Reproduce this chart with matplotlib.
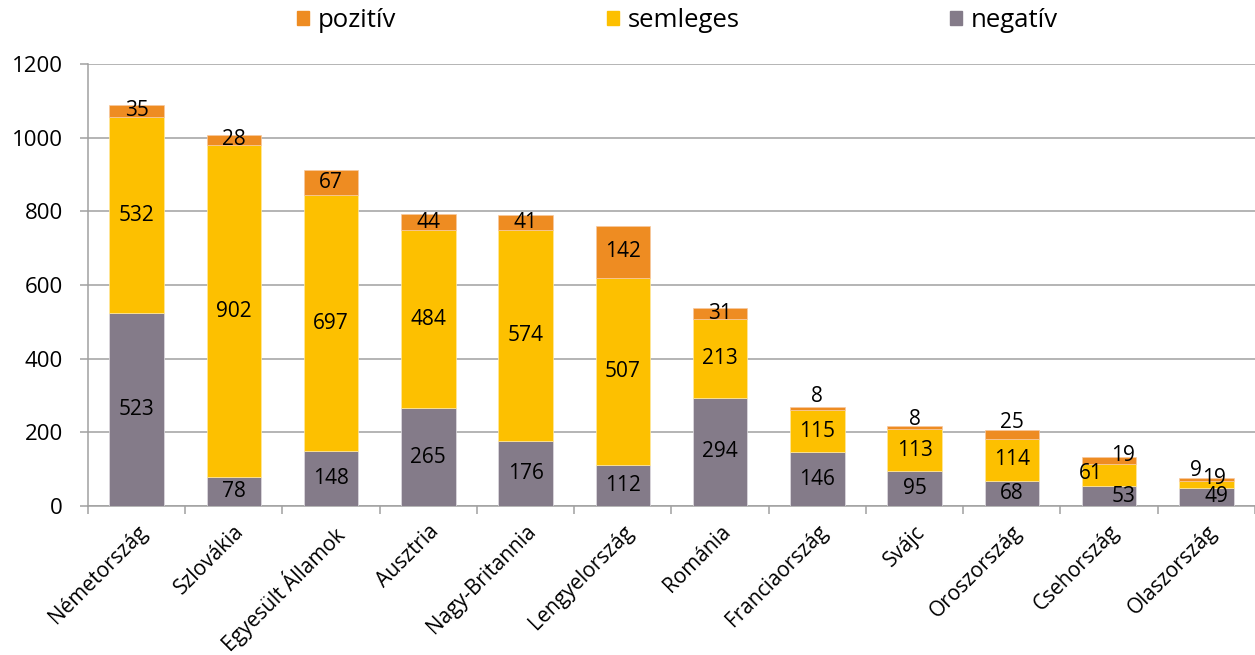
import matplotlib.pyplot as plt
from matplotlib.patches import Patch
import numpy as np

plt.rcParams['font.family'] = ['Open Sans', 'DejaVu Sans']

# data
countries = ["Németország", "Szlovákia", "Egyesült Államok", "Ausztria", "Nagy-Britannia",
             "Lengyelország", "Románia", "Franciaország", "Svájc", "Oroszország",
             "Csehország", "Olaszország"]
negativ = [523, 78, 148, 265, 176, 112, 294, 146, 95, 68, 53, 49]
semleges = [532, 902, 697, 484, 574, 507, 213, 115, 113, 114, 61, 19]
pozitiv = [35, 28, 67, 44, 41, 142, 31, 8, 8, 25, 19, 9]

c_neg = "#847b89"
c_sem = "#fdc000"
c_poz = "#ee8c22"

# label nudges in pixels (dx, dy) for small segments, like in the original
nudge = {
    ("poz", 7): (0, 12),
    ("poz", 8): (0, 8),
    ("poz", 9): (0, 12),
    ("neg", 10): (14, 0),
    ("sem", 10): (-18, 2),
    ("poz", 10): (14, 5),
    ("neg", 11): (10, 0),
    ("sem", 11): (8, 6),
    ("poz", 11): (-10, 9),
}

fig = plt.figure(figsize=(12.55, 6.55), dpi=100)
ax = fig.add_axes([0.0701, 0.2275, 0.9299, 0.6748])

x = np.arange(len(countries))
w = 0.56
neg = np.array(negativ)
sem = np.array(semleges)
poz = np.array(pozitiv)

ax.bar(x, neg, w, color=c_neg, edgecolor="#e0dde2", linewidth=0.5, zorder=3)
ax.bar(x, sem, w, bottom=neg, color=c_sem, edgecolor="#ffe9a0", linewidth=0.5, zorder=3)
ax.bar(x, poz, w, bottom=neg + sem, color=c_poz, edgecolor="#f7c9a0", linewidth=0.5, zorder=3)

series = [("neg", neg, np.zeros(len(neg))), ("sem", sem, neg), ("poz", poz, neg + sem)]
for key, vals, bottoms in series:
    for i in range(len(vals)):
        dx, dy = nudge.get((key, i), (0, 0))
        ax.annotate(str(vals[i]), (x[i], bottoms[i] + vals[i] / 2),
                    xytext=(dx, dy), textcoords="offset pixels",
                    ha="center", va="center", fontsize=15, color="black", zorder=5)

ax.set_xlim(-0.5, len(countries) - 0.5)
ax.set_ylim(0, 1200)
ax.set_yticks(np.arange(0, 1201, 200))
ax.tick_params(axis="y", labelsize=16, length=6, width=1.1, color="#a0a0a0", pad=12)
ax.yaxis.grid(True, color="#a0a0a0", linewidth=1.1, zorder=0)
ax.set_axisbelow(True)

ax.set_xticks(x)
ax.set_xticklabels(countries, rotation=45, ha="right", va="top",
                   rotation_mode="anchor", fontsize=15)
ax.tick_params(axis="x", length=0, pad=11)
ax.set_xticks(np.arange(-0.5, len(countries), 1), minor=True)
ax.tick_params(axis="x", which="minor", length=6, width=1.1, color="#a0a0a0")

for s in ["top", "right"]:
    ax.spines[s].set_visible(False)
for s in ["left", "bottom"]:
    ax.spines[s].set_color("#a0a0a0")
    ax.spines[s].set_linewidth(1.1)

handles = [Patch(color=c_poz, label="pozitív"),
           Patch(color=c_sem, label="semleges"),
           Patch(color=c_neg, label="negatív")]
fig.legend(handles=handles, loc="center", bbox_to_anchor=(0.54, 0.968), ncol=3,
           frameon=False, fontsize=18.5, handlelength=0.45, handleheight=0.45,
           handletextpad=0.35, columnspacing=8.2)

fig.savefig("out.png", dpi=100)
